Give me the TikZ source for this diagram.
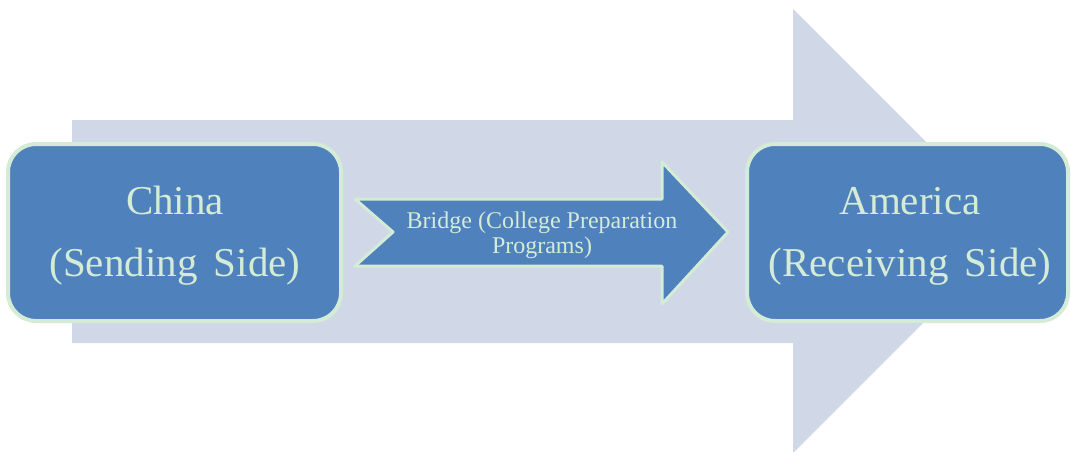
\documentclass[tikz,border=0pt]{standalone}
\usepackage{fontspec}
\setmainfont{Liberation Serif}
\definecolor{bgblue}{RGB}{208,216,232}
\definecolor{boxblue}{RGB}{79,129,189}
\definecolor{mint}{RGB}{212,235,214}
\newcommand{\sidefont}{\fontsize{41}{62}\selectfont\spaceskip 0.4em\relax}
\begin{document}
\begin{tikzpicture}[x=1pt, y=-1pt, line join=round,
  side box/.style={rectangle, rounded corners=28pt, fill=boxblue, draw=mint, line width=4pt, minimum height=177pt},
  side text/.style={text=mint, align=center, font=\sidefont},
  bridge text/.style={text=mint, align=center, font=\fontsize{24}{25}\selectfont}]
\useasboundingbox (0,0) rectangle (1071,451);
% big background arrow
\fill[bgblue] (72,120) -- (793,120) -- (793,9) -- (1015,231) -- (793,453) -- (793,343) -- (72,343) -- cycle;
\node[side box, minimum width=333pt] (china) at (174.5,232.5) {};
\node[side box, minimum width=321pt] (america) at (907.5,232.5) {};
\node[side text] (chinatext) at (175,236) {China\\(Sending Side)};
\node[side text] (americatext) at (910,236) {America\\(Receiving Side)};
% bridge arrow
\draw[fill=boxblue, draw=mint, line width=3pt] (355,199) -- (662,199) -- (662,162) -- (728,232) -- (662,304) -- (662,266) -- (355,266) -- (393,232) -- cycle;
\node[bridge text] (bridge) at (542,235) {Bridge (College Preparation\\Programs)};
\end{tikzpicture}
\end{document}
